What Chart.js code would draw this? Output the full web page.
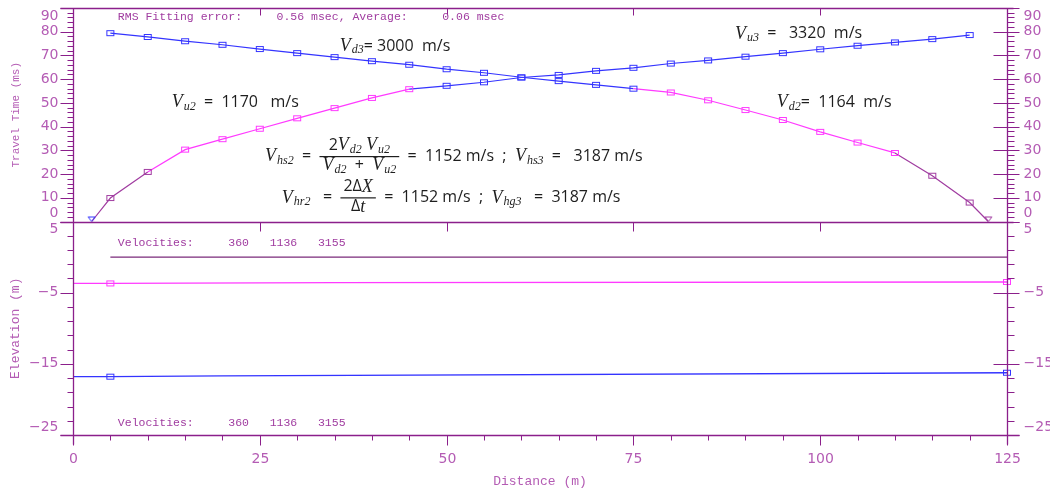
<!DOCTYPE html>
<html>
<head>
<meta charset="utf-8">
<script src="https://cdn.jsdelivr.net/npm/chart.js@4"></script>
<style>
  html, body { margin: 0; padding: 0; background: #fff; }
  #wrap { width: 1050px; height: 493px; }
</style>
</head>
<body>
<div id="wrap"><canvas id="myChart"></canvas></div>
<script>
// Geophone stations (m) and the two shot points
const stations = [5, 10, 15, 20, 25, 30, 35, 40, 45, 50, 55, 60, 65, 70, 75, 80, 85, 90, 95, 100, 105, 110, 115, 120];
const fwdShot = 2.5;
const revShot = 122.5;

// First-break travel times (ms) and the layer each pick belongs to (1 direct, 2, 3)
const fwdTimes = [9.9, 20.9, 30.3, 34.7, 39.1, 43.5, 47.8, 52.1, 55.8, 57.2, 58.7, 60.7, 61.8, 63.5, 64.8, 66.6, 67.9, 69.5, 71.0, 72.6, 74.1, 75.5, 76.9, 78.6];
const fwdLayer = [1, 1, 2, 2, 2, 2, 2, 2, 2, 3, 3, 3, 3, 3, 3, 3, 3, 3, 3, 3, 3, 3, 3, 3];
const revTimes = [79.4, 77.8, 76.0, 74.5, 72.7, 71.0, 69.3, 67.6, 66.1, 64.2, 62.7, 60.8, 59.2, 57.6, 56.0, 54.4, 51.1, 47.0, 42.8, 37.8, 33.3, 28.9, 19.3, 8.0];
const revLayer = [3, 3, 3, 3, 3, 3, 3, 3, 3, 3, 3, 3, 3, 3, 3, 2, 2, 2, 2, 2, 2, 2, 1, 1];

// Depth section: surface and the two refractors (elevation, m)
const surfX = [5, 125];
const surfElev = [0, 0];
const ref2X = [0, 5, 35, 125];
const ref2Elev = [-3.7, -3.7, -3.6, -3.5];
const ref3X = [0, 5, 20, 125];
const ref3Elev = [-16.8, -16.8, -16.7, -16.25];

const velocities = [360, 1136, 3155];
const rmsError = 0.56;
const avgError = 0.06;

const BLUE = '#3434ff';
const PINK = '#ff3aff';
const PURPLE = '#a03ca0';
const AXIS = '#8b1f8b';
const LABEL = '#b45cb4';
const INK = '#1e1e1e';
const layerColor = [PURPLE, PURPLE, PINK, BLUE];

// hollow box and down-pointing triangle markers
function boxMarker(color) {
    const c = document.createElement('canvas');
    c.width = 10; c.height = 8;
    const g = c.getContext('2d');
    g.strokeStyle = color; g.lineWidth = 1;
    g.strokeRect(1.5, 1.5, 7, 5);
    return c;
}
function triMarker(color) {
    const c = document.createElement('canvas');
    c.width = 9; c.height = 12;
    const g = c.getContext('2d');
    g.strokeStyle = color; g.lineWidth = 1;
    g.beginPath(); g.moveTo(1, 1.5); g.lineTo(8, 1.5); g.lineTo(4.5, 6); g.closePath(); g.stroke();
    return c;
}
const boxes = layerColor.map(boxMarker);

function shotSeries(shotX, times, layers, first, shotColor) {
    const pts = stations.map((x, i) => ({ x: x, y: times[i] }));
    const lay = layers.slice();
    const shotPt = { x: shotX, y: 0 };
    if (first) { pts.unshift(shotPt); lay.unshift(0); } else { pts.push(shotPt); lay.push(0); }
    const colorAt = i => lay[i] === 0 ? shotColor : layerColor[lay[i]];
    return {
        data: pts,
        yAxisID: 'yTop',
        borderWidth: 1.2,
        borderColor: BLUE,
        pointStyle: lay.map((l, i) => l === 0 ? triMarker(shotColor) : boxes[l]),
        pointRadius: 3,
        segment: {
            borderColor: ctx => lay[ctx.p1DataIndex] === 0 ? colorAt(ctx.p0DataIndex) : colorAt(ctx.p1DataIndex)
        },
        clip: false
    };
}

function sectionLine(xs, ys, color, marks) {
    return {
        data: xs.map((x, i) => ({ x: x, y: ys[i] })),
        yAxisID: 'yBot',
        borderColor: color,
        borderWidth: 1.3,
        pointStyle: boxMarker(color),
        pointRadius: xs.map(x => marks.includes(x) ? 3 : 0),
        clip: false
    };
}

const datasets = [
    shotSeries(fwdShot, fwdTimes, fwdLayer, true, BLUE),
    shotSeries(revShot, revTimes, revLayer, false, PURPLE),
    sectionLine(surfX, surfElev, '#7a2a7a', []),
    sectionLine(ref2X, ref2Elev, PINK, [5, 125]),
    sectionLine(ref3X, ref3Elev, BLUE, [5, 125])
];

// italic symbols with subscripts, plain numbers
const F_V = 'italic 18px "Liberation Serif"';
const F_SUB = 'italic 12px "Liberation Serif"';
const F_NUM = '16px "Open Sans"';

function run(ctx, x, y, parts) {
    for (const p of parts) {
        ctx.font = p[1];
        ctx.fillText(p[0], x, y + (p[2] || 0));
        x += ctx.measureText(p[0]).width + (p[3] || 0);
    }
    return x;
}
function sym(name, sub) {
    return [[name, F_V, 0, 1], [sub, F_SUB, 4, 0]];
}
function widthOf(ctx, parts) {
    let w = 0;
    for (const p of parts) { ctx.font = p[1]; w += ctx.measureText(p[0]).width + (p[3] || 0); }
    return w;
}
function fraction(ctx, x, y, num, den) {
    const wn = widthOf(ctx, num), wd = widthOf(ctx, den);
    const w = Math.max(wn, wd) + 6;
    run(ctx, x + (w - wn) / 2, y - 11, num);
    run(ctx, x + (w - wd) / 2, y + 9, den);
    ctx.fillRect(x, y - 0.5, w, 1.2);
    return x + w;
}

function ticksY(ctx, scale, step, base, xAxis, side) {
    for (let v = scale.min; v <= scale.max + 1e-6; v += step) {
        const y = Math.round(scale.getPixelForValue(v)) + 0.5;
        const major = Math.abs((v - base) % 10) < 1e-6;
        ctx.beginPath();
        if (side === 'left') {
            ctx.moveTo(xAxis - (major ? 13 : 6), y); ctx.lineTo(xAxis, y);
        } else {
            ctx.moveTo(xAxis - (major ? 14 : 0), y); ctx.lineTo(xAxis + (major ? 12 : 7), y);
        }
        ctx.stroke();
        if (major) {
            const ly = Math.min(Math.max(scale.getPixelForValue(v), scale.top + 8), scale.bottom - 8);
            ctx.fillStyle = LABEL;
            ctx.font = '14px "DejaVu Sans"';
            ctx.textAlign = side === 'left' ? 'right' : 'left';
            ctx.fillText(String(v).replace('-', '\u2212'), side === 'left' ? xAxis - 15 : xAxis + 16, ly);
        }
    }
}

const framePlugin = {
    id: 'frame',
    afterDatasetsDraw(chart) {
        const { ctx, chartArea: a, scales } = chart;
        const x = scales.x, yt = scales.yTop, yb = scales.yBot;
        const L = Math.round(a.left) + 0.5, R = Math.round(a.right) + 0.5;
        const T = Math.round(a.top) + 0.5, B = Math.round(a.bottom) + 0.5;
        const M = Math.round(yt.bottom) + 0.5;
        ctx.save();
        ctx.strokeStyle = AXIS;
        ctx.lineWidth = 1.3;
        ctx.textBaseline = 'middle';

        // frame: top border, panel divider, distance axis, two side axes
        ctx.beginPath();
        ctx.moveTo(L - 13, T); ctx.lineTo(R + 6, T);
        ctx.moveTo(L - 13, M); ctx.lineTo(R + 6, M);
        ctx.moveTo(L - 13, B); ctx.lineTo(R + 12, B);
        ctx.moveTo(L, T); ctx.lineTo(L, B + 9);
        ctx.moveTo(R, T); ctx.lineTo(R, B + 9);
        ctx.stroke();

        ctx.lineWidth = 1;
        ticksY(ctx, yt, 2, 0, L, 'left');
        ticksY(ctx, yb, 2, -25, L, 'left');
        ticksY(ctx, scales.yTopR, 2, 0, R, 'right');
        ticksY(ctx, scales.yBotR, 2, -25, R, 'right');

        // distance ticks and labels
        for (let v = x.min; v <= x.max; v += 5) {
            const px = Math.round(x.getPixelForValue(v)) + 0.5;
            const major = v % 25 === 0;
            ctx.beginPath();
            ctx.moveTo(px, B); ctx.lineTo(px, B + (major ? 10 : 5));
            if (major && v > x.min && v < x.max) {
                ctx.moveTo(px, T); ctx.lineTo(px, T + 7);
                ctx.moveTo(px, M); ctx.lineTo(px, M + 9);
            }
            ctx.stroke();
            if (major) {
                ctx.fillStyle = LABEL;
                ctx.font = '14px "DejaVu Sans"';
                ctx.textAlign = 'center';
                ctx.fillText(String(v), px, B + 24);
            }
        }

        // fitting statistics and layer velocities
        ctx.textAlign = 'left';
        ctx.fillStyle = PURPLE;
        ctx.font = '11.5px "Liberation Mono"';
        const x0 = x.getPixelForValue(6);
        ctx.fillText('RMS Fitting error:     ' + rmsError.toFixed(2) + ' msec, Average:     ' + avgError.toFixed(2) + ' msec', x0, yt.getPixelForValue(86.3));
        const vel = 'Velocities:     ' + velocities.join('   ');
        ctx.fillText(vel, x0, yb.getPixelForValue(2.0));
        ctx.fillText(vel, x0, yb.getPixelForValue(-23.3));

        // apparent and true velocities
        ctx.fillStyle = INK;
        const at = (dx, t) => [x.getPixelForValue(dx), yt.getPixelForValue(t)];
        let p = at(35.7, 74.0);
        run(ctx, p[0], p[1], [...sym('V', 'd3'), ['= 3000  m/s', F_NUM]]);
        p = at(88.6, 79.1);
        run(ctx, p[0], p[1], [...sym('V', 'u3'), ['  =   3320  m/s', F_NUM]]);
        p = at(13.2, 50.2);
        run(ctx, p[0], p[1], [...sym('V', 'u2'), ['  =  1170   m/s', F_NUM]]);
        p = at(94.2, 50.2);
        run(ctx, p[0], p[1], [...sym('V', 'd2'), ['=  1164  m/s', F_NUM]]);

        p = at(25.7, 27.4);
        let cx = run(ctx, p[0], p[1], [...sym('V', 'hs2'), ['  =  ', F_NUM]]);
        cx = fraction(ctx, cx, p[1],
            [['2', F_NUM], ...sym('V', 'd2'), [' ', F_NUM], ...sym('V', 'u2')],
            [...sym('V', 'd2'), ['  +  ', F_NUM], ...sym('V', 'u2')]);
        run(ctx, cx, p[1], [['  =  1152 m/s  ;  ', F_NUM], ...sym('V', 'hs3'), ['  =   3187 m/s', F_NUM]]);

        p = at(27.95, 10.0);
        cx = run(ctx, p[0], p[1], [...sym('V', 'hr2'), ['   =  ', F_NUM]]);
        cx = fraction(ctx, cx, p[1], [['2\u0394', F_NUM], ['X', F_V]], [['\u0394', F_NUM], ['t', F_V]]);
        run(ctx, cx, p[1], [['  =  1152 m/s  ;  ', F_NUM], ...sym('V', 'hg3'), ['   =  3187 m/s', F_NUM]]);
        ctx.restore();
    }
};

const hidden = {
    grid: { display: false },
    border: { display: false },
    ticks: { display: false }
};
const titleFont = { family: 'Liberation Mono', size: 13 };

const config = {
    type: 'line',
    data: { datasets: datasets },
    options: {
        responsive: true,
        maintainAspectRatio: false,
        animation: false,
        layout: { padding: { top: 8 } },
        plugins: { legend: { display: false }, tooltip: { enabled: false } },
        scales: {
            x: {
                type: 'linear', position: 'bottom', min: 0, max: 125, ...hidden,
                title: { display: true, text: 'Distance (m)', color: LABEL, font: titleFont, padding: { top: 0, bottom: 4 } },
                afterFit: s => { s.height = 58; }
            },
            yBot: {
                type: 'linear', position: 'left', stack: 'left', min: -25, max: 5, ...hidden,
                title: { display: true, text: 'Elevation (m)', color: LABEL, font: titleFont, padding: { top: 8, bottom: 0 } },
                afterFit: s => { s.width = 73; }
            },
            yTop: {
                type: 'linear', position: 'left', stack: 'left', min: 0, max: 90, ...hidden,
                title: { display: true, text: 'Travel Time (ms)', color: LABEL, font: { family: 'Liberation Mono', size: 11 }, padding: { top: 9, bottom: 0 } },
                afterFit: s => { s.width = 73; }
            },
            yTopR: {
                type: 'linear', position: 'right', stack: 'right', min: 0, max: 90, ...hidden,
                afterFit: s => { s.width = 43; }
            },
            yBotR: {
                type: 'linear', position: 'right', stack: 'right', min: -25, max: 5, ...hidden,
                afterFit: s => { s.width = 43; }
            }
        }
    },
    plugins: [framePlugin]
};

const ctx = document.getElementById('myChart').getContext('2d');
const myChart = new Chart(ctx, config);
</script>
</body>
</html>
